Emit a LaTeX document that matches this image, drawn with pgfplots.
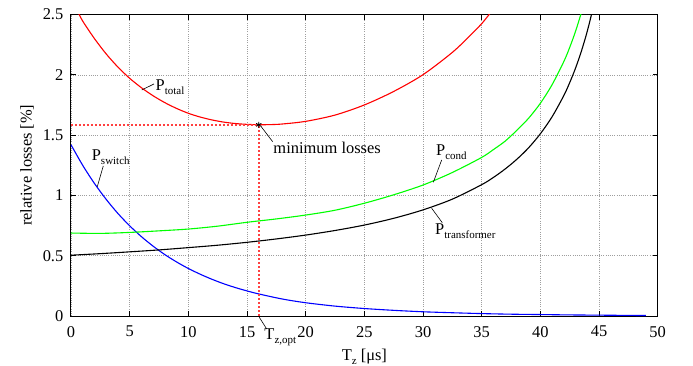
\documentclass[border=0pt]{standalone}
\usepackage{fontspec}
\setmainfont{Liberation Serif}
\usepackage{pgfplots}
\usepackage{pgfplotstable}
\pgfplotsset{compat=1.18}
\newcommand{\sub}[1]{\raisebox{-4bp}{\fontsize{11}{12}\selectfont #1}}

\pgfplotstableread{
x y
0 1.420
1 1.249
2 1.099
3 0.967
4 0.850
5 0.748
6 0.658
7 0.579
8 0.509
9 0.448
10 0.394
11 0.347
12 0.305
13 0.268
14 0.236
15 0.208
16 0.183
18 0.141
20 0.110
22.5 0.082
25 0.062
27.5 0.047
30 0.035
32.5 0.027
35 0.020
37.5 0.015
40 0.012
42.5 0.009
45 0.007
47.5 0.005
49 0.004
}\switchdata

\pgfplotstableread{
x y
0 0.688
2.5 0.685
5 0.693
7.5 0.706
10 0.721
12.5 0.745
15 0.777
17.5 0.805
20 0.837
22.5 0.877
25 0.935
27.5 1.005
30 1.086
32.5 1.19
35 1.315
36 1.38
37 1.45
38 1.54
39 1.64
40 1.764
41 1.918
42 2.11
42.5 2.227
43 2.361
43.5 2.517
}\conddata

\pgfplotstableread{
x y
0 0.504
2.5 0.517
5 0.532
7.5 0.548
10 0.567
12.5 0.587
15 0.611
17.5 0.639
20 0.671
22.5 0.709
25 0.754
27.5 0.810
30 0.880
32.5 0.969
35 1.089
36 1.149
37 1.219
38 1.300
39 1.395
40 1.511
41 1.652
42 1.828
42.5 1.935
43 2.056
43.5 2.197
44 2.362
44.5 2.557
}\transdata

\pgfplotstableread{
x y
0.6 2.520
1 2.445
2 2.300
3 2.173
4 2.064
5 1.971
6 1.893
7 1.826
8 1.769
9 1.721
10 1.681
11 1.650
12 1.626
13 1.608
14 1.596
15 1.589
16 1.586
17 1.587
18 1.592
20 1.614
22.5 1.666
25 1.750
27.5 1.862
30 2.001
32.5 2.186
34 2.324
35 2.424
35.7 2.508
36 2.545
}\totaldata

\begin{document}
\fontsize{16.5}{19}\selectfont
\begin{tikzpicture}
\begin{axis}[
  scale only axis,
  width=586.7bp, height=301.5bp,
  xmin=0, xmax=50, ymin=0, ymax=2.5,
  xtick={0,5,...,50},
  ytick={0,0.5,1,1.5,2,2.5},
  /pgf/number format/assume math mode=true,
  tick label style={font=\fontsize{16.5}{19}\selectfont},
  grid=major,
  major grid style={line width=0.6bp, black!38, dash pattern=on 0.9bp off 1.3bp},
  axis line style={line width=1bp},
  every tick/.style={black, line width=1bp},
  major tick length=5bp,
  xticklabel style={yshift=-4.5bp},
  yticklabel style={xshift=-2bp},
  xlabel={T\sub{z} [μs]},
  ylabel={relative losses [\%]},
  xlabel style={at={(axis description cs:0.5,0)}, anchor=base, yshift=-44bp},
  ylabel style={at={(axis description cs:-0.0673,0.5)}, anchor=base},
  clip mode=individual,
]
\addplot[blue, line width=1.1bp, smooth] table[x=x,y=y] {\switchdata};
\addplot[green, line width=1.1bp, smooth] table[x=x,y=y] {\conddata};
\addplot[black, line width=1.1bp, smooth] table[x=x,y=y] {\transdata};
\addplot[red, line width=1.1bp, smooth] table[x=x,y=y] {\totaldata};
\addplot[red!75, line width=1.6bp, dash pattern=on 2.5bp off 1.5bp] coordinates {(0,1.585) (16,1.585)};
\addplot[red!75, line width=1.6bp, dash pattern=on 2.5bp off 1.5bp] coordinates {(16,0) (16,1.585)};
\addplot[only marks, mark=asterisk, mark size=3bp, black, line width=0.8bp] coordinates {(16,1.585)};

\draw[line width=0.6bp] (axis cs:6.03,1.874) -- (axis cs:7.07,1.924);
\node[anchor=base west, inner sep=0] at (axis cs:7.2,1.868) {P\sub{total}};
\draw[line width=0.6bp] (axis cs:2.75,1.244) -- (axis cs:2.24,1.072);
\node[anchor=base west, inner sep=0] at (axis cs:1.76,1.288) {P\sub{switch}};
\draw[line width=0.6bp] (axis cs:16.17,1.575) -- (axis cs:17.19,1.445);
\node[anchor=base west, inner sep=0] at (axis cs:17.24,1.349) {minimum losses};
\draw[line width=0.6bp] (axis cs:31.59,1.294) -- (axis cs:30.88,1.109);
\node[anchor=base west, inner sep=0] at (axis cs:31.1,1.327) {P\sub{cond}};
\draw[line width=0.6bp] (axis cs:31.64,0.774) -- (axis cs:30.74,0.893);
\node[anchor=base west, inner sep=0] at (axis cs:31.02,0.677) {P\sub{transformer}};
\draw[line width=0.6bp] (axis cs:16.05,-0.011) -- (axis cs:16.68,-0.108);
\node[anchor=base west, inner sep=0] at (axis cs:16.47,-0.193) {T\sub{z,opt}};

\coordinate (SW) at (rel axis cs:0,0);
\coordinate (NE) at (rel axis cs:1,1);
\end{axis}
\pgfresetboundingbox
\path[use as bounding box] ([shift={(-71bp,-50bp)}]SW) rectangle ([shift={(35.3bp,14.5bp)}]NE);
\end{tikzpicture}
\end{document}
